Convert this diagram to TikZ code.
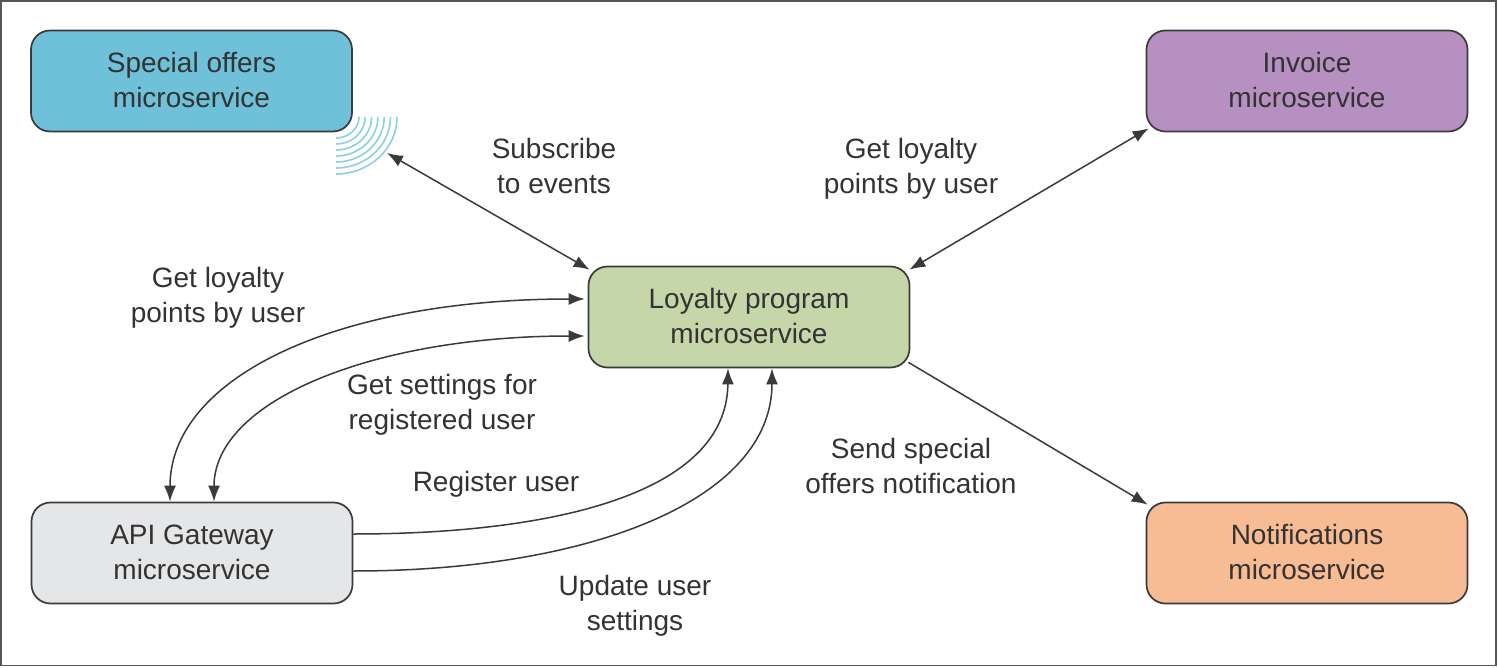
\documentclass[tikz,border=0pt]{standalone}
\usepackage{fontspec}
\setmainfont{Liberation Sans}
\usetikzlibrary{arrows.meta}
\newcommand{\lftxt}{\rule[-1pt]{0pt}{0pt}}
\definecolor{txt}{HTML}{333333}
\definecolor{edge}{HTML}{3A3A3A}
\definecolor{frm}{HTML}{55555A}
\definecolor{cblue}{HTML}{6EC1D8}
\definecolor{cpurple}{HTML}{B790C2}
\definecolor{cgreen}{HTML}{C5D6A9}
\definecolor{cgrey}{HTML}{E5E6E8}
\definecolor{corange}{HTML}{F8BC94}
\definecolor{arc}{HTML}{8CD0E3}
\tikzset{
  x=0.5pt,y=-0.5pt,
  svc/.style={draw=edge,line width=0.85pt,rounded corners=9.5pt,minimum width=160.5pt,minimum height=50.5pt,inner sep=0pt,align=center,text=txt,font=\fontsize{14}{17.25}\selectfont},
  lbl/.style={inner sep=0pt,align=center,text=txt,font=\fontsize{14}{17.25}\selectfont},
  conn/.style={draw=edge,line width=0.75pt,-{Latex[length=8pt,width=6pt]}},
  conn2/.style={draw=edge,line width=0.75pt,{Latex[length=8pt,width=6pt]}-{Latex[length=8pt,width=6pt]}},
  wave/.style={draw=arc,line width=0.8pt}
}
\begin{document}
\begin{tikzpicture}
\useasboundingbox (0,0) rectangle (1498,668);
\fill[white] (0,0) rectangle (1498,668);
\draw[frm,line width=0.8pt] (1,1) rectangle (1496,665.5);

\foreach \a/\b in {23/21,29.3/27,35.6/33,41.9/39,48.2/45,54.5/51,61/57}{
  \draw[wave] (336+\a,117) arc[start angle=0,end angle=90,x radius=\a,y radius=\b];
}

\node[svc,fill=cblue] (special) at (191.5,81) {Special offers\\microservice\lftxt};
\node[svc,fill=cpurple] (invoice) at (1307,81) {Invoice\\microservice\lftxt};
\node[svc,fill=cgreen] (loyalty) at (749,317) {Loyalty program\\microservice\lftxt};
\node[svc,fill=cgrey] (gateway) at (192,553) {API Gateway\\microservice\lftxt};
\node[svc,fill=corange] (notif) at (1307,553) {Notifications\\microservice\lftxt};
\coordinate (waves) at (387,153);

\draw[conn2] (waves) -- ([shift={(1pt,-2pt)}]loyalty.north west);
\draw[conn2] ([shift={(1.5pt,2pt)}]invoice.south west) -- ([shift={(-0.5pt,-2pt)}]loyalty.north east);
\draw[conn] ([shift={(-1pt,3pt)}]loyalty.south east) -- ([shift={(1pt,-1.5pt)}]notif.north west);

\draw[conn2] ([shift={(-1.5pt,9pt)}]loyalty.west) .. controls (335,299) and (170,378) .. ([xshift=-11pt]gateway.north);
\draw[conn2] ([shift={(-1.5pt,-9.5pt)}]loyalty.west) .. controls (375,336) and (214,400) .. ([xshift=11pt]gateway.north);
\draw[conn] ([yshift=9.5pt]gateway.east) .. controls (550,534) and (727,495) .. ([xshift=-10.5pt]loyalty.south);
\draw[conn] ([yshift=-9pt]gateway.east) .. controls (590,571) and (772,500) .. ([xshift=11.5pt]loyalty.south);

\node[lbl] (l1) at (554,166) {Subscribe\\to events};
\node[lbl] (l2) at (911,169) {Get loyalty\\points by user};
\node[lbl] (l3) at (218,298) {Get loyalty\\points by user};
\node[lbl] (l4) at (442,405) {Get settings for\\registered user};
\node[lbl] (l5) at (496,484) {Register user};
\node[lbl] (l6) at (911,466) {Send special\\offers notification};
\node[lbl] (l7) at (635,606) {Update user\\settings};
\end{tikzpicture}
\end{document}
